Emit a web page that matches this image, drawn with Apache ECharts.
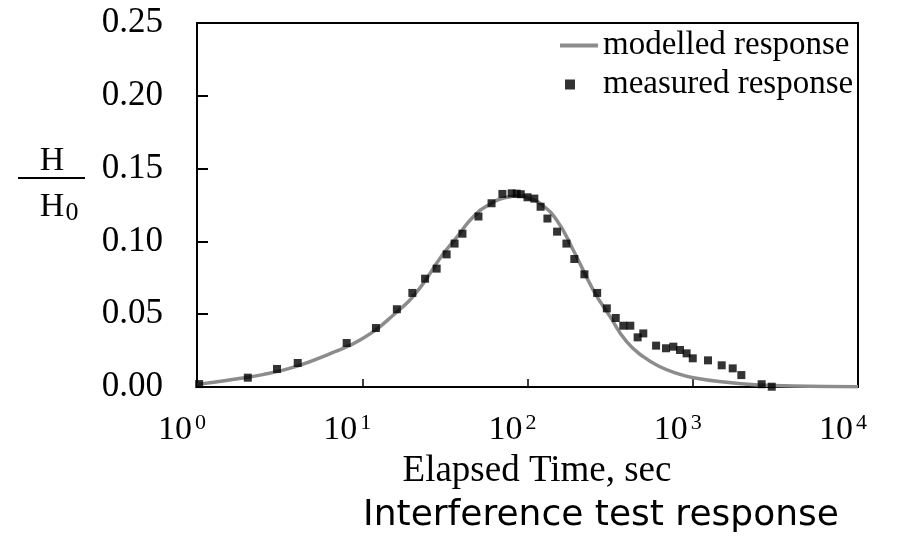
<!DOCTYPE html>
<html>
<head>
<meta charset="utf-8">
<script src="https://cdn.jsdelivr.net/npm/echarts@6/dist/echarts.min.js"></script>
<style>
html, body { margin: 0; background: #fff; }
#chart { width: 898px; height: 539px; }
</style>
</head>
<body>
<div id="chart"></div>
<script>
// modelled response curve
const modelTime = [1, 1.5, 2.5, 4, 6.2, 10, 16, 22, 30, 38, 47, 59, 75, 90, 105, 119, 150, 189, 250, 316, 398, 502, 634, 800, 1008, 1603, 2553, 4044, 10000];
const modelResponse = [0.0018, 0.0045, 0.0085, 0.0142, 0.0223, 0.0331, 0.051, 0.067, 0.0895, 0.104, 0.117, 0.1255, 0.1303, 0.1312, 0.129, 0.1262, 0.1147, 0.0941, 0.0666, 0.0483, 0.0311, 0.0208, 0.0139, 0.0094, 0.0064, 0.0032, 0.0014, 0.0007, 0.0002];

// measured points
const measuredTime = [1.03, 2.03, 3.05, 4.07, 8.05, 12.1, 16.2, 20.1, 24.0, 28.2, 32.4, 36.2, 40.4, 50.5, 60.6, 70.5, 80.2, 86, 91, 100, 110, 120, 132, 151, 172, 192, 221, 264, 302, 342, 380, 419, 464, 502, 600, 689, 763, 837, 918, 1000, 1237, 1497, 1745, 1968, 2612, 3006];
const measuredResponse = [0.002, 0.0064, 0.0124, 0.0165, 0.0302, 0.0405, 0.0534, 0.0646, 0.0744, 0.0813, 0.0911, 0.0985, 0.1053, 0.1171, 0.1262, 0.1326, 0.1330, 0.1328, 0.1324, 0.1303, 0.1294, 0.1238, 0.1157, 0.1067, 0.0985, 0.0879, 0.0774, 0.0646, 0.0540, 0.0474, 0.0421, 0.0421, 0.0341, 0.0368, 0.0284, 0.0266, 0.0277, 0.0254, 0.0231, 0.0197, 0.0183, 0.0149, 0.0128, 0.0082, 0.0019, 0.0002];

const xMin = 1, xMax = 10000;
const yMin = 0, yMax = 0.25, yStep = 0.05;
const seriesNames = ['modelled response', 'measured response'];
const xTitle = 'Elapsed Time, sec';
const chartTitle = 'Interference test response';

const serif = 'Liberation Serif';

let myChart = echarts.init(document.getElementById('chart'));

let options = {
    animation: false,
    grid: {
        left: 197, top: 23, right: 40, bottom: 152,
        show: true, borderColor: '#000', borderWidth: 2
    },
    legend: [{
        data: [{ name: seriesNames[0], icon: 'rect' }],
        left: 560, top: 29, padding: 0,
        itemWidth: 38, itemHeight: 4,
        selectedMode: false,
        textStyle: { fontFamily: serif, fontSize: 33, color: '#000' }
    }, {
        data: [seriesNames[1]],
        left: 565, top: 68, padding: 0,
        itemWidth: 10, itemHeight: 10,
        selectedMode: false,
        textStyle: { fontFamily: serif, fontSize: 33, color: '#000', padding: [0, 0, 0, 23] }
    }],
    xAxis: {
        type: 'log', logBase: 10, min: xMin, max: xMax,
        axisLine: { lineStyle: { color: '#000', width: 2 } },
        axisTick: { inside: true, length: 8, lineStyle: { color: '#000', width: 1.5 } },
        minorTick: { show: false },
        splitLine: { show: false },
        axisLabel: {
            margin: 25,
            formatter(v){
                return '{b|10}{s|' + Math.round(Math.log10(v)) + '}{p|}';
            },
            rich: {
                b: { fontFamily: serif, fontSize: 34, lineHeight: 36, color: '#000' },
                s: { fontFamily: serif, fontSize: 22, lineHeight: 22, verticalAlign: 'top', padding: [0, 0, 0, 3], color: '#000' },
                p: { width: 30 }
            }
        }
    },
    yAxis: {
        type: 'value', min: yMin, max: yMax, interval: yStep,
        axisLine: { show: true, lineStyle: { color: '#000', width: 2 } },
        axisTick: { show: true, inside: true, length: 11, lineStyle: { color: '#000', width: 2 } },
        splitLine: { show: false },
        axisLabel: {
            margin: 34,
            fontFamily: serif, fontSize: 35, color: '#000',
            formatter(v){ return v.toFixed(2); }
        }
    },
    graphic: [
        { type: 'text', x: 52, y: 161, style: { text: 'H', fontFamily: serif, fontSize: 34, fill: '#000', textAlign: 'center', textVerticalAlign: 'middle', align: 'center', verticalAlign: 'middle' } },
        { type: 'line', shape: { x1: 18, y1: 178, x2: 85, y2: 178 }, style: { stroke: '#000', lineWidth: 2 } },
        { type: 'text', x: 52, y: 207, style: { text: 'H', fontFamily: serif, fontSize: 34, fill: '#000', textAlign: 'center', textVerticalAlign: 'middle', align: 'center', verticalAlign: 'middle' } },
        { type: 'text', x: 72, y: 213, style: { text: '0', fontFamily: serif, fontSize: 26, fill: '#000', textAlign: 'center', textVerticalAlign: 'middle', align: 'center', verticalAlign: 'middle' } },
        { type: 'text', x: 537, y: 471, style: { text: xTitle, fontFamily: serif, fontSize: 37, fill: '#000', textAlign: 'center', textVerticalAlign: 'middle', align: 'center', verticalAlign: 'middle' } },
        { type: 'text', x: 601, y: 516, style: { text: chartTitle, fontFamily: 'DejaVu Sans', fontSize: 36, fill: '#000', textAlign: 'center', textVerticalAlign: 'middle', align: 'center', verticalAlign: 'middle' } }
    ],
    series: [{
        name: seriesNames[0],
        type: 'line',
        smooth: true,
        symbol: 'none',
        showSymbol: false,
        lineStyle: { color: '#8c8c8c', width: 3.5 },
        itemStyle: { color: '#8c8c8c' },
        data: modelTime.map((t, i) => [t, modelResponse[i]]),
        z: 2
    }, {
        name: seriesNames[1],
        type: 'scatter',
        symbol: 'rect',
        symbolSize: 8,
        itemStyle: { color: '#000' },
        data: measuredTime.map((t, i) => [t, measuredResponse[i]]),
        z: 3
    }]
};

myChart.setOption(options);
</script>
</body>
</html>
